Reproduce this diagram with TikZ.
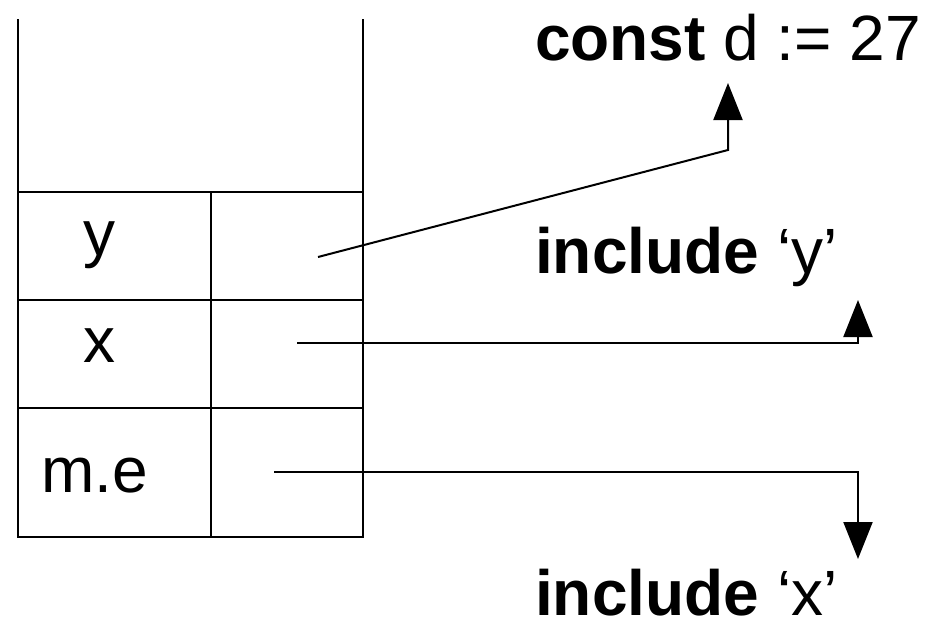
\documentclass[tikz,border=0pt]{standalone}
\usepackage{fontspec}
\setmainfont{Liberation Sans}
\usetikzlibrary{arrows.meta}
\begin{document}
\begin{tikzpicture}[x=1pt,y=-1pt,
  frame/.style={line width=2pt,line cap=rect},
  conn/.style={line width=2pt,-{Triangle[width=29pt,length=37pt]}},
  lbl/.style={inner sep=0pt,anchor=base,font=\fontsize{64}{70}\selectfont},
  code/.style={inner sep=0pt,anchor=base west,text depth=0pt,font=\fontsize{64}{70}\selectfont}]
\useasboundingbox (0,0) rectangle (943,622);
% stack frame
\draw[frame] (18,20) -- (18,537) -- (363,537) -- (363,20);
\draw[frame] (18,192) -- (363,192);
\draw[frame] (18,300) -- (363,300);
\draw[frame] (18,408) -- (363,408);
\draw[frame] (211,192) -- (211,537);
% cell labels
\node[lbl] (ly) at (99,255) {y};
\node[lbl] (lx) at (99,362) {x};
\node[lbl,anchor=base west] (lme) at (41,492) {m.e};
% texts
\node[code] (constd) at (535,60) {\textbf{const} d := 27};
\node[code] (incy) at (535,273) {\textbf{include} ‘y’};
\node[code] (incx) at (535,615) {\textbf{include} ‘x’};
% connector points
\coordinate (sy) at (318,257);
\coordinate (sx) at (297,343);
\coordinate (sm) at (274,472);
\coordinate (cy) at (728,150);
\coordinate (ty) at (728,83);
\coordinate (cx) at (858,343);
\coordinate (tx) at (858,300);
\coordinate (cm) at (858,472);
\coordinate (tm) at (858,559);
\draw[conn] (sy) -- (cy) -- (ty);
\draw[conn] (sx) -- (cx) -- (tx);
\draw[conn] (sm) -- (cm) -- (tm);
\end{tikzpicture}
\end{document}
